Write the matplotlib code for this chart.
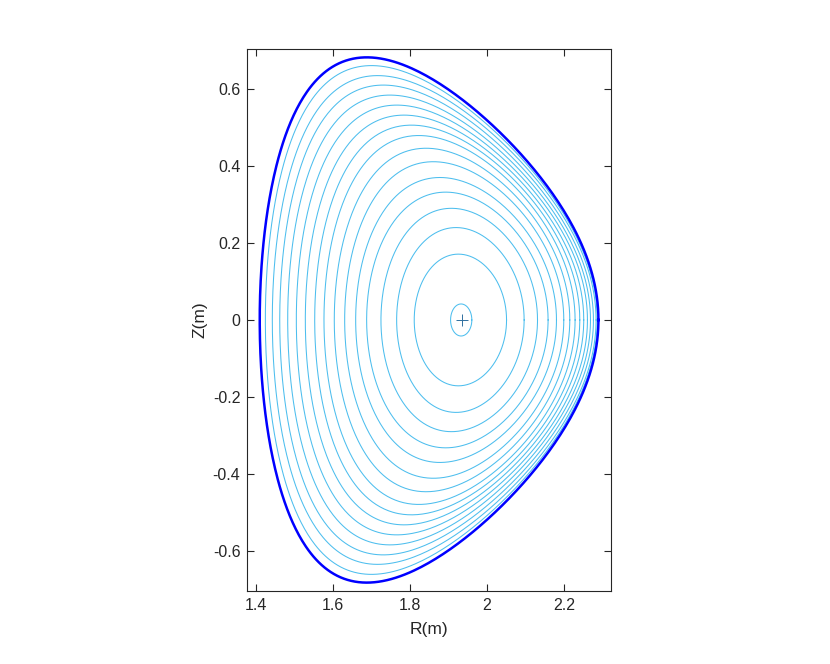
import numpy as np
import matplotlib
matplotlib.use('Agg')
import matplotlib.pyplot as plt

# flux surfaces, outermost inner surface first
# midplane crossings (m)
r_inner = [1.4242, 1.4423, 1.4616, 1.4823, 1.5047, 1.5281, 1.5525, 1.5766,
           1.6034, 1.6304, 1.6590, 1.6875, 1.7247, 1.7655, 1.8112]
r_outer = [2.2870, 2.2839, 2.2771, 2.2694, 2.2615, 2.2519, 2.2416, 2.2294,
           2.2156, 2.2000, 2.1810, 2.1592, 2.1317, 2.0969, 2.0512]
# top of each surface (m) and R where it is reached
z_top = [0.6606, 0.6346, 0.610, 0.584, 0.558, 0.532, 0.506, 0.479,
         0.446, 0.411, 0.370, 0.332, 0.290, 0.240, 0.171]
r_top = [1.700, 1.716, 1.731, 1.748, 1.766, 1.785, 1.804, 1.823,
         1.842, 1.861, 1.878, 1.893, 1.908, 1.920, 1.926]

# last closed surface
bdy_in, bdy_out, bdy_ztop, bdy_rtop = 1.4096, 2.2901, 0.682, 1.688
# small surface around the axis
core_in, core_out, core_ztop, core_rtop = 1.9057, 1.961, 0.0416, 1.933
# magnetic axis
r_axis, z_axis = 1.935, 0.0

bdy_square = -0.06   # squareness of the last closed surface


def surface(rin, rout, ztop, rtop, n=500):
    # Miller-type shape through the read points
    th = np.linspace(0, 2 * np.pi, n)
    r0 = (rin + rout) / 2
    a = (rout - rin) / 2
    kap = ztop / a
    dl = np.clip((r0 - rtop) / a, -0.95, 0.95)
    zeta = bdy_square * (a / ((bdy_out - bdy_in) / 2)) ** 2
    R = r0 + a * np.cos(th + np.arcsin(dl) * np.sin(th))
    Z = kap * a * np.sin(th + zeta * np.sin(2 * th))
    return R, Z


plt.rcParams['font.family'] = ['Liberation Sans', 'DejaVu Sans']

fig = plt.figure(figsize=(8.3, 6.64), dpi=100)
ax = fig.add_axes([0.298, 0.1104, 0.4378, 0.8154])

light = '#4DBEEE'
for rin, rout, zt, rt in zip(r_inner, r_outer, z_top, r_top):
    R, Z = surface(rin, rout, zt, rt)
    ax.plot(R, Z, color=light, lw=0.75)

R, Z = surface(core_in, core_out, core_ztop, core_rtop)
ax.plot(R, Z, color=light, lw=0.75)

R, Z = surface(bdy_in, bdy_out, bdy_ztop, bdy_rtop)
ax.plot(R, Z, color='#0000FF', lw=1.8)

ax.plot(r_axis, z_axis, '+', color='#2F6F9F', ms=9, mew=0.7)

ax.set_xlim(1.3774, 2.322)
ax.set_ylim(-0.703, 0.703)

ax.set_xticks([1.4, 1.6, 1.8, 2.0, 2.2])
ax.set_xticklabels(['1.4', '1.6', '1.8', '2', '2.2'])
ax.set_yticks([-0.6, -0.4, -0.2, 0, 0.2, 0.4, 0.6])
ax.set_yticklabels(['-0.6', '-0.4', '-0.2', '0', '0.2', '0.4', '0.6'])

dark = '#262626'
ax.tick_params(direction='in', top=True, right=True, length=5, width=0.8,
               colors=dark, labelsize=11.5, pad=5)
for s in ax.spines.values():
    s.set_color(dark)
    s.set_linewidth(0.8)

ax.set_xlabel('R(m)', fontsize=12.5, color=dark, labelpad=7)
ax.set_ylabel('Z(m)', fontsize=12.5, color=dark, labelpad=4)

fig.savefig('out.png', dpi=100)
